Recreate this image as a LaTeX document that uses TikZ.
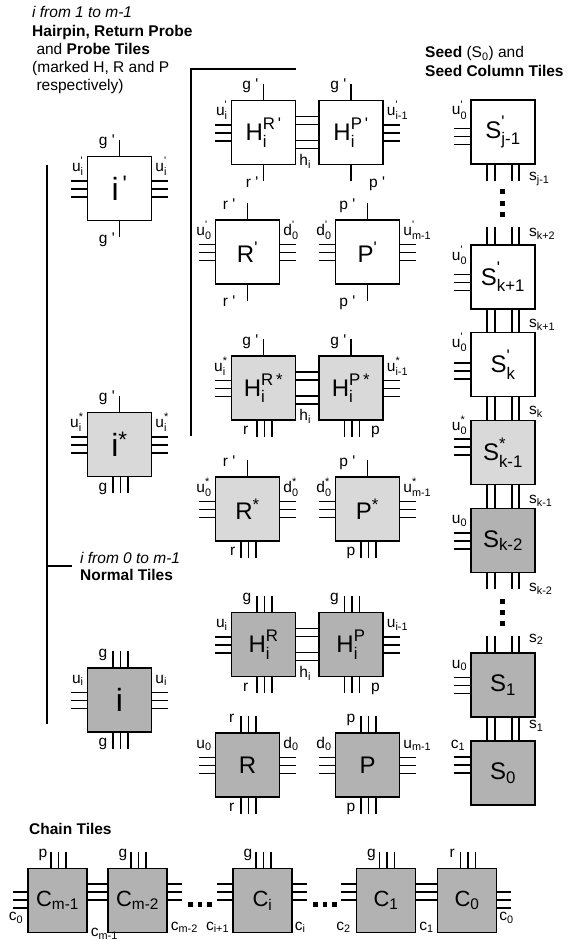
\documentclass[tikz,border=0pt]{standalone}
\usepackage{fontspec}
\setmainfont{Liberation Sans}
\usetikzlibrary{calc}
\definecolor{lightg}{RGB}{217,217,217}
\definecolor{darkg}{RGB}{178,178,178}
\newcommand{\pr}{\textquotesingle}
\newcommand{\tsubsup}[3]{#1\setbox0=\hbox{\raisebox{-0.1em}{\textsubscript{#2}}}\setbox2=\hbox{\raisebox{0.1em}{\textsuperscript{#3}}}\ifdim\wd0>\wd2 \rlap{\box2}\box0\else\rlap{\box0}\box2\fi}
% left / right triple pins: tile, pin shift, label shift, label
\newcommand{\pinL}[4]{\foreach \d in {-7.5,0.5,8.5}{\draw[pin] ($(#1.west)+(0,{\d+(#2)})$) -- ++(-16,0);}
  \node[lab,anchor=base east] at ($(#1.west)+(-3,{-17+(#3)})$) {#4};}
\newcommand{\pinR}[4]{\foreach \d in {-7.5,0.5,8.5}{\draw[pin] ($(#1.east)+(0,{\d+(#2)})$) -- ++(16,0);}
  \node[lab,anchor=base west] at ($(#1.east)+(3,{-17+(#3)})$) {#4};}
% top / bottom triple pins: tile, label anchor, label dx, label
\newcommand{\pinTT}[4]{\foreach \d in {-6.5,1,8.5}{\draw[pin] ($(#1.north)+(\d,0)$) -- ++(0,-16);}
  \node[lab,anchor=#2] at ($(#1.north)+(#3,-10)$) {#4};}
\newcommand{\pinBT}[4]{\foreach \d in {-6.5,1,8.5}{\draw[pin] ($(#1.south)+(\d,0)$) -- ++(0,16);}
  \node[lab,anchor=#2] at ($(#1.south)+(#3,14)$) {#4};}
% top / bottom single pins
\newcommand{\pinTS}[4]{\draw[pin] (#1.north) -- ++(0,-16);
  \node[lab,anchor=#2] at ($(#1.north)+(#3,-10)$) {#4};}
\newcommand{\pinBS}[4]{\draw[pin] (#1.south) -- ++(0,16);
  \node[lab,anchor=#2] at ($(#1.south)+(#3,22)$) {#4};}
\newcommand{\sqdot}[2]{\fill (#1-2,#2-2.5) rectangle ++(4.5,5);}
\begin{document}
\begin{tikzpicture}[x=1pt,y=-1pt,
  tile/.style={draw,line width=1.5pt,minimum width=64pt,minimum height=64pt,inner sep=0pt,font=\fontsize{24}{24}\selectfont},
  ctile/.style={tile,minimum width=59pt,font=\fontsize{22}{22}\selectfont},
  itile/.style={tile,font=\fontsize{32}{32}\selectfont},
  pin/.style={line width=1.3pt},
  lab/.style={inner sep=0pt,font=\fontsize{15.5}{15.5}\selectfont},
  txt/.style={inner sep=0pt,font=\fontsize{15.5}{18}\selectfont,anchor=base west},
  bar/.style={line width=1.3pt}]
\useasboundingbox (0,0) rectangle (573,941);

% ---- texts
\node[txt] (t1) at (32,18) {\itshape i from 1 to m-1};
\node[txt] (t2) at (32,36.5) {\bfseries Hairpin, Return Probe};
\node[txt] (t3) at (32,55) {\ and \textbf{Probe Tiles}};
\node[txt] (t4) at (32,73) {(marked H, R and P};
\node[txt] (t5) at (32,91) {\ respectively)};
\node[txt] (t6) at (425,58) {\textbf{Seed} (S\textsubscript{0}) and};
\node[txt] (t7) at (425,77) {\bfseries Seed Column Tiles};
\node[txt] (t8) at (80,563) {\itshape i from 0 to m-1};
\node[txt] (t9) at (80,580) {\bfseries Normal Tiles};
\node[txt] (t10) at (29,834) {\bfseries Chain Tiles};

% ---- brackets
\coordinate (b1) at (296,69); \coordinate (b2) at (191,69); \coordinate (b3) at (191,436);
\draw[bar] (b1) -- (b2) -- (b3);
\coordinate (b4) at (47,165); \coordinate (b5) at (47,724);
\coordinate (b6) at (47,566); \coordinate (b7) at (72,566);
\draw[bar] (b4) -- (b5);
\draw[bar] (b6) -- (b7);

% ---- i tiles
\node[itile,fill=white] (ip) at (119.5,188.5) {i\textsuperscript{\,\pr}};
\node[itile,fill=lightg] (is) at (119.5,444.5) {i\textsuperscript{*}};
\node[itile,fill=darkg] (in) at (119.5,700) {i};
\pinTS{ip}{base east}{-4.5}{g \pr}
\pinBS{ip}{base east}{-4.5}{g \pr}
\pinL{ip}{0}{0}{\tsubsup{u}{i}{\pr}}
\pinR{ip}{0}{0}{\tsubsup{u}{i}{\pr}}
\pinTS{is}{base east}{-4.5}{g \pr}
\pinBT{is}{base east}{-12}{g}
\pinL{is}{0}{0}{\tsubsup{u}{i}{*}}
\pinR{is}{0}{0}{\tsubsup{u}{i}{*}}
\pinTT{in}{base east}{-12}{g}
\pinBT{in}{base east}{-12}{g}
\pinL{in}{0}{0}{u\textsubscript{i}}
\pinR{in}{0}{0}{u\textsubscript{i}}

% ---- primed hairpin / R / P
\node[tile,fill=white] (HRp) at (263.5,132.5) {\tsubsup{H}{i}{R\,\pr}};
\node[tile,fill=white] (HPp) at (351,132.5) {\tsubsup{H}{i}{P\,\pr}};
\foreach \d in {-16,-8,8,16}{\draw[pin] ($(HRp.east)+(0,\d)$) -- ($(HPp.west)+(0,\d)$);}
\node[lab,anchor=south west] (h1) at ($(HRp.south east)+(3,3)$) {h\textsubscript{i}};
\pinTS{HRp}{base east}{-5}{g \pr}
\pinBS{HRp}{base east}{-5}{r \pr}
\pinL{HRp}{0}{0}{\tsubsup{u}{i}{\pr}}
\pinTS{HPp}{base east}{-4.5}{g \pr}
\pinBS{HPp}{base west}{18}{p \pr}
\pinR{HPp}{0}{0}{\tsubsup{u}{i-1}{\pr}}

\node[tile,fill=white] (Rp) at (247.5,252) {R\textsuperscript{\pr}};
\node[tile,fill=white] (Pp) at (367.5,252) {P\textsuperscript{\pr}};
\pinTS{Rp}{base east}{-12}{r \pr}
\pinBS{Rp}{base east}{-12}{r \pr}
\pinL{Rp}{0}{0}{\tsubsup{u}{0}{\pr}}
\pinR{Rp}{0}{0}{\tsubsup{d}{0}{\pr}}
\pinTS{Pp}{base east}{-12}{p \pr}
\pinBS{Pp}{base east}{-12}{p \pr}
\pinL{Pp}{0}{0}{\tsubsup{d}{0}{\pr}}
\pinR{Pp}{0}{0}{\tsubsup{u}{m-1}{\pr}}

% ---- starred hairpin / R / P
\node[tile,fill=lightg] (HRs) at (263.5,388) {\tsubsup{H}{i}{R\,*}};
\node[tile,fill=lightg] (HPs) at (351,388) {\tsubsup{H}{i}{P\,*}};
\foreach \d in {-16,-8,8,16}{\draw[pin] ($(HRs.east)+(0,\d)$) -- ($(HPs.west)+(0,\d)$);}
\node[lab,anchor=south west] (h2) at ($(HRs.south east)+(3,3)$) {h\textsubscript{i}};
\pinTS{HRs}{base east}{-5}{g \pr}
\pinBT{HRs}{base east}{-15}{r}
\pinL{HRs}{0}{0}{\tsubsup{u}{i}{*}}
\pinTS{HPs}{base east}{-4.5}{g \pr}
\pinBT{HPs}{base west}{20}{p}
\pinR{HPs}{0}{0}{\tsubsup{u}{i-1}{*}}

\node[tile,fill=lightg] (Rs) at (247.5,509) {R\textsuperscript{*}};
\node[tile,fill=lightg] (Ps) at (367.5,509) {P\textsuperscript{*}};
\pinTS{Rs}{base east}{-12}{r \pr}
\pinBT{Rs}{base east}{-12}{r}
\pinL{Rs}{0}{0}{\tsubsup{u}{0}{*}}
\pinR{Rs}{0}{0}{\tsubsup{d}{0}{*}}
\pinTS{Ps}{base east}{-12}{p \pr}
\pinBT{Ps}{base east}{-12}{p}
\pinL{Ps}{0}{0}{\tsubsup{d}{0}{*}}
\pinR{Ps}{0}{0}{\tsubsup{u}{m-1}{*}}

% ---- normal hairpin / R / P
\node[tile,fill=darkg] (HR) at (263.5,644.5) {\tsubsup{H}{i}{R}};
\node[tile,fill=darkg] (HP) at (351,644.5) {\tsubsup{H}{i}{P}};
\foreach \d in {-16,-8,8,16}{\draw[pin] ($(HR.east)+(0,\d)$) -- ($(HP.west)+(0,\d)$);}
\node[lab,anchor=south west] (h3) at ($(HR.south east)+(3,3)$) {h\textsubscript{i}};
\pinTT{HR}{base east}{-12}{g}
\pinBT{HR}{base east}{-15}{r}
\pinL{HR}{0}{0}{u\textsubscript{i}}
\pinTT{HP}{base east}{-12}{g}
\pinBT{HP}{base west}{20}{p}
\pinR{HP}{0}{0}{u\textsubscript{i-1}}

\node[tile,fill=darkg] (nR) at (247.5,765) {R};
\node[tile,fill=darkg] (nP) at (367.5,765) {P};
\pinTT{nR}{base east}{-13}{r}
\pinBT{nR}{base east}{-13}{r}
\pinL{nR}{0}{0}{u\textsubscript{0}}
\pinR{nR}{0}{0}{d\textsubscript{0}}
\pinTT{nP}{base east}{-12}{p}
\pinBT{nP}{base east}{-12}{p}
\pinL{nP}{0}{0}{d\textsubscript{0}}
\pinR{nP}{0}{0}{u\textsubscript{m-1}}

% ---- seed column
\node[tile,fill=white] (Sj) at (503,132) {\tsubsup{S}{j-1}{\pr}};
\node[tile,fill=white] (Sa) at (503,277) {\tsubsup{S}{k+1}{\pr}};
\node[tile,fill=white] (Sb) at (503,364.5) {\tsubsup{S}{k}{\pr}};
\node[tile,fill=lightg] (Sc) at (503,452.5) {\tsubsup{S}{k-1}{*}};
\node[tile,fill=darkg] (Sd) at (503,540.5) {S\textsubscript{k-2}};
\node[tile,fill=darkg] (Se) at (503,685) {S\textsubscript{1}};
\node[tile,fill=darkg] (Sf) at (503,773) {S\textsubscript{0}};
\pinL{Sj}{4}{0}{\tsubsup{u}{0}{\pr}}
\pinL{Sa}{5}{0}{\tsubsup{u}{0}{\pr}}
\pinL{Sb}{6}{0}{\tsubsup{u}{0}{\pr}}
\pinL{Sc}{-6}{-5}{\tsubsup{u}{0}{*}}
\pinL{Sd}{0}{0}{u\textsubscript{0}}
\pinL{Se}{0}{0}{u\textsubscript{0}}
\foreach \d in {-16,-8,9,16}{
  \draw[pin] ($(Sj.south)+(\d,0)$) -- ++(0,16);
  \draw[pin] ($(Sa.north)+(\d,0)$) -- ++(0,-17);
  \draw[pin] ($(Sa.south)+(\d,0)$) -- ($(Sb.north)+(\d,0)$);
  \draw[pin] ($(Sb.south)+(\d,0)$) -- ($(Sc.north)+(\d,0)$);
  \draw[pin] ($(Sc.south)+(\d,0)$) -- ($(Sd.north)+(\d,0)$);
  \draw[pin] ($(Sd.south)+(\d,0)$) -- ++(0,16);
  \draw[pin] ($(Se.north)+(\d,0)$) -- ++(0,-16);
  \draw[pin] ($(Se.south)+(\d,0)$) -- ($(Sf.north)+(\d,0)$);
}
\node[lab,anchor=base west] at ($(Sj.south)+(26,16)$) {s\textsubscript{j-1}};
\node[lab,anchor=base west] at ($(Sa.north)+(26,-8)$) {s\textsubscript{k+2}};
\node[lab,anchor=base west] at ($(Sa.south)+(26,18)$) {s\textsubscript{k+1}};
\node[lab,anchor=base west] at ($(Sb.south)+(26,17)$) {s\textsubscript{k}};
\node[lab,anchor=base west] at ($(Sc.south)+(26,18)$) {s\textsubscript{k-1}};
\node[lab,anchor=base west] at ($(Sd.south)+(26,18)$) {s\textsubscript{k-2}};
\node[lab,anchor=base west] at ($(Se.north)+(26,-10)$) {s\textsubscript{2}};
\node[lab,anchor=base west] at ($(Se.south)+(26,11)$) {s\textsubscript{1}};
\foreach \d in {-16,-8,0}{\draw[pin] ($(Sf.west)+(0,\d)$) -- ++(-16,0);}
\node[lab,anchor=base east] at ($(Sf.west)+(-5,-25)$) {c\textsubscript{1}};
\sqdot{502}{192}\sqdot{502}{203.5}\sqdot{502}{215}
\sqdot{502}{601}\sqdot{502}{612}\sqdot{502}{623}

% ---- chain tiles
\node[ctile,fill=darkg] (Cm1) at (57.5,900.5) {C\textsubscript{m-1}};
\node[ctile,fill=darkg] (Cm2) at (137.5,900.5) {C\textsubscript{m-2}};
\node[ctile,fill=darkg] (Ci) at (262.5,900.5) {C\textsubscript{i}};
\node[ctile,fill=darkg] (Co1) at (386,900.5) {C\textsubscript{1}};
\node[ctile,fill=darkg] (Co0) at (467,900.5) {C\textsubscript{0}};
\pinTT{Cm1}{base east}{-10}{p}
\pinTT{Cm2}{base east}{-10}{g}
\pinTT{Ci}{base east}{-10}{g}
\pinTT{Co1}{base east}{-10}{g}
\pinTT{Co0}{base east}{-12}{r}
\foreach \d in {-8.5,-0.5,7.5}{
  \draw[pin] ($(Cm1.west)+(0,\d)$) -- ++(-14,0);
  \draw[pin] ($(Co0.east)+(0,\d)$) -- ++(14,0);
}
\foreach \d in {-16.5,-8.5,-0.5}{
  \draw[pin] ($(Cm1.east)+(0,\d)$) -- ($(Cm2.west)+(0,\d)$);
  \draw[pin] ($(Cm2.east)+(0,\d)$) -- ++(14,0);
  \draw[pin] ($(Ci.west)+(0,\d)$) -- ++(-15,0);
  \draw[pin] ($(Ci.east)+(0,\d)$) -- ++(14,0);
  \draw[pin] ($(Co1.west)+(0,\d)$) -- ++(-15,0);
  \draw[pin] ($(Co1.east)+(0,\d)$) -- ($(Co0.west)+(0,\d)$);
}
\node[lab,anchor=base east] at ($(Cm1.west)+(-4,20)$) {c\textsubscript{0}};
\node[lab,anchor=base west] at ($(Cm1.east)+(3,36)$) {c\textsubscript{m-1}};
\node[lab,anchor=base west] at ($(Cm2.east)+(3,29.5)$) {c\textsubscript{m-2}};
\node[lab,anchor=base east] at ($(Ci.west)+(-3,29.5)$) {c\textsubscript{i+1}};
\node[lab,anchor=base west] at ($(Ci.east)+(2,29.5)$) {c\textsubscript{i}};
\node[lab,anchor=base east] at ($(Co1.west)+(-5,29.5)$) {c\textsubscript{2}};
\node[lab,anchor=base west] at ($(Co1.east)+(3,29.5)$) {c\textsubscript{1}};
\node[lab,anchor=base west] at ($(Co0.east)+(2,20)$) {c\textsubscript{0}};
\sqdot{190}{904}\sqdot{199.5}{904}\sqdot{209}{904}
\sqdot{315}{904}\sqdot{324.5}{904}\sqdot{334}{904}
\end{tikzpicture}
\end{document}
